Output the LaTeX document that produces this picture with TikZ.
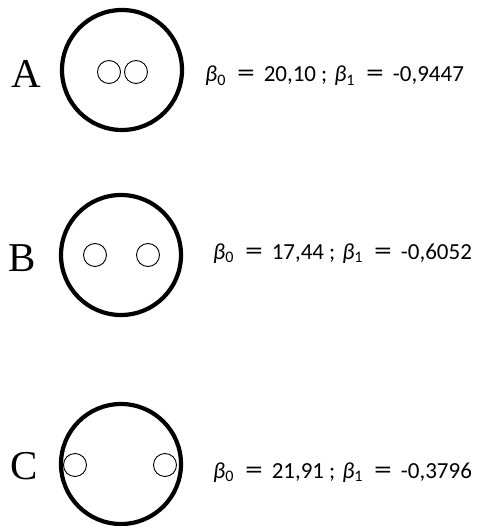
\documentclass[tikz,border=0pt]{standalone}
\usepackage{fontspec}
\setmainfont{Carlito}
\newfontfamily\labelfont{Liberation Serif}
\newcommand{\eqsign}{\hspace{11pt}\scalebox{1.55}[1.15]{=}\hspace{9pt}}
\newcommand{\bsub}[1]{\textit{β}\textsubscript{#1}}
\begin{document}
\begin{tikzpicture}[x=1pt,y=-1pt,
  outer/.style={circle,draw,line width=4.2pt,minimum size=120pt,inner sep=0pt},
  inner/.style={circle,draw,line width=0.9pt,minimum size=23pt,inner sep=0pt},
  lab/.style={font=\labelfont\fontsize{41}{41}\selectfont,inner sep=0pt},
  formula/.style={font=\fontsize{23}{23}\selectfont,anchor=base west,inner sep=0pt}]
\useasboundingbox (0,0) rectangle (480,526);
% A
\node[lab] (la) at (26,74) {A};
\node[outer] (ca) at (122,70) {};
\node[inner] (a1) at (109,72) {};
\node[inner] (a2) at (136,72) {};
\node[formula] (fa) at (205,82) {\bsub{0}\eqsign 20,10\hspace{5pt};\hspace{7pt}\bsub{1}\eqsign -0,9447};
% B
\node[lab] (lb) at (22,258) {B};
\node[outer] (cb) at (121,255) {};
\node[inner] (b1) at (95,255) {};
\node[inner] (b2) at (148,255) {};
\node[formula] (fb) at (213,259) {\bsub{0}\eqsign 17,44\hspace{5pt};\hspace{7pt}\bsub{1}\eqsign -0,6052};
% C
\node[lab] (lc) at (24,466) {C};
\node[outer] (cc) at (121,464) {};
\node[inner] (c1) at (75,465) {};
\node[inner] (c2) at (165,465) {};
\node[formula] (fc) at (213,478) {\bsub{0}\eqsign 21,91\hspace{5pt};\hspace{7pt}\bsub{1}\eqsign -0,3796};
\end{tikzpicture}
\end{document}
